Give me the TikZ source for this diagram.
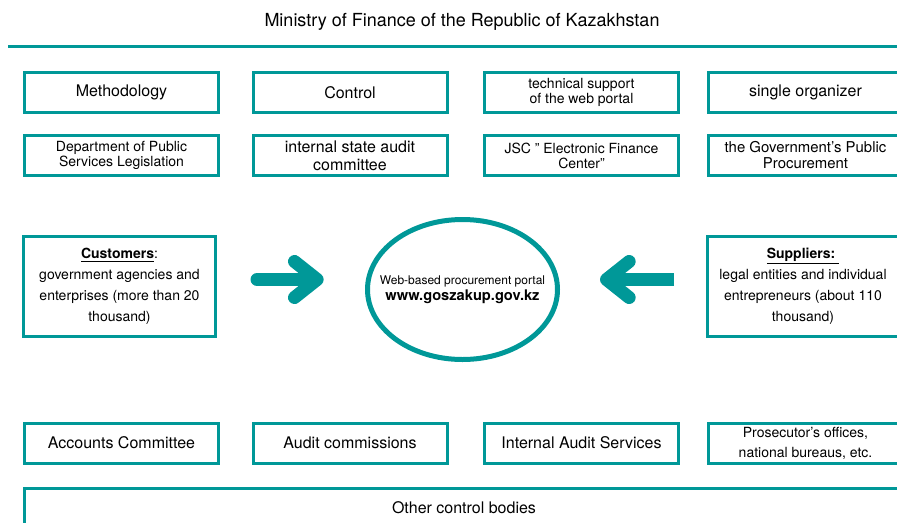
\documentclass[tikz,border=0pt]{standalone}
\usepackage{fontspec}
\setmainfont{TeX Gyre Heros}
\usetikzlibrary{shapes.geometric,arrows.meta}
\definecolor{govteal}{RGB}{0,152,152}

\tikzset{
	unit/.style={draw=govteal, line width=2.25pt, minimum width=145.5pt, minimum height=30pt,
		inner sep=0pt, align=center, font=\fontsize{12}{13.5}\selectfont},
	smalltxt/.style={font=\fontsize{10.5}{11.3}\selectfont},
	party/.style={unit, minimum width=144pt, minimum height=75pt, font=\fontsize{10.5}{15.7}\selectfont},
	fat/.style={draw=govteal, line width=9.75pt, line cap=round,
		-{Straight Barb[length=17pt, width=27pt, round]}}
}

\begin{document}
\begin{tikzpicture}[x=0.75pt,y=-0.75pt]
	\useasboundingbox (0,0) rectangle (897,522);
	\clip (0,0) rectangle (897,522);

	\node[font=\fontsize{13.5}{15}\selectfont] (mof) at (462,22) {Ministry of Finance of the Republic of Kazakhstan};
	\draw[govteal, line width=2.25pt] (8,46) -- (897,46);

	% functions of the ministry
	\node[unit] (meth) at (121.5,92.5) {Methodology};
	\node[unit] (ctrl) at (350,92.5) {Control};
	\node[unit,smalltxt] (tech) at (581.5,92.5) {technical support\\of the web portal};
	\node[unit] (org) at (805.5,92.5) {single organizer};

	% who is in charge
	\node[unit,smalltxt] (dept) at (121.5,155.5) {Department of Public\\Services Legislation};
	\node[unit] (audit) at (350,155.5) {internal state audit\\committee};
	\node[unit,smalltxt] (efc) at (581.5,155.5) {JSC " Electronic Finance\\Center"};
	\node[unit,font=\fontsize{11.2}{12}\selectfont] (gpp) at (805.5,155.5) {the Government's Public\\Procurement};

	% portal and its users
	\node[ellipse, draw=govteal, line width=3.75pt, minimum width=142.5pt, minimum height=105pt,
		inner sep=0pt] (portal) at (462.5,289.5) {};
	\node[align=center, inner sep=0pt] (url) at (portal.center)
		{{\fontsize{9}{13}\selectfont Web-based procurement portal}\\
		 {\fontsize{11}{13}\selectfont\bfseries www.goszakup.gov.kz}};
	\node[party] (cust) at (119.5,286.5)
		{\underline{\textbf{Customers}}:\\government agencies and\\enterprises (more than 20\\thousand)};
	\node[party] (supp) at (803,286.5)
		{\underline{\textbf{Suppliers:}\ }\\legal entities and individual\\entrepreneurs (about 110\\thousand)};

	\draw[fat, shorten <=30pt, shorten >=31pt] ([yshift=5.25pt]cust.east) -- ([yshift=7.5pt]portal.west);
	\draw[fat, line cap=butt, shorten <=23.5pt, shorten >=30pt] ([yshift=5.25pt]supp.west) -- ([yshift=7.5pt]portal.east);

	% control bodies
	\node[unit] (acc) at (121.5,443) {Accounts Committee};
	\node[unit] (comm) at (350,443) {Audit commissions};
	\node[unit] (ias) at (581.5,443) {Internal Audit Services};
	\node[unit,smalltxt,font=\fontsize{10.5}{15}\selectfont] (pros) at (805.5,443) {Prosecutor's offices,\\national bureaus, etc.};
	\node[unit, minimum width=659pt] (other) at (464,508) {Other control bodies};
\end{tikzpicture}
\end{document}
